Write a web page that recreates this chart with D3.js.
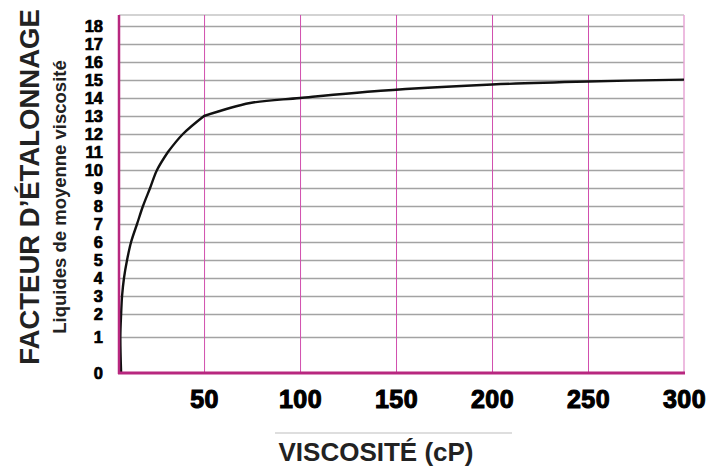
<!DOCTYPE html>
<html><head><meta charset="utf-8">
<script src="https://cdn.jsdelivr.net/npm/d3@7"></script>
<style>body{margin:0;background:#fff}svg{display:block}text{font-family:"Liberation Sans",Arial,sans-serif}</style>
</head><body>
<script>
const viscosity = [6.8, 6.4, 6.8, 7.3, 8.3, 9.9, 12, 15.1, 18.2, 21.9, 25.5, 31.2, 39, 50, 74, 100, 142, 200, 250, 300];
const factor    = [0,   1,   2,   3,   4,   5,   6,  7,    8,    9,    10,   11,   12, 13, 13.72, 14, 14.4, 14.75, 14.92, 15.02];
const breakIdx = [11, 13]; // visible kinks on the curve (at factor 11 and 13)
const yTicks = [0,1,2,3,4,5,6,7,8,9,10,11,12,13,14,15,16,17,18];
const xTicks = [50,100,150,200,250,300];
const yTitle = "FACTEUR D\u2019ÉTALONNAGE";
const ySub = "Liquides de moyenne viscosité";
const xTitle = "VISCOSITÉ (cP)";

const W = 722, H = 468;
const L = 119, R = 684, T = 15, B = 373;
const svg = d3.select("body").append("svg").attr("width", W).attr("height", H);

const x = d3.scaleLinear().domain([5.7, 300]).range([L, R]);
const y = d3.scaleLinear().domain([0, 1, 2, 18]).range([B, 337, 314, 26]);

// horizontal gridlines
svg.append("g").attr("transform", `translate(${L},0)`)
  .call(d3.axisLeft(y).tickValues(yTicks.filter(d => d > 0)).tickSize(-(R - L)).tickFormat(""))
  .call(g => g.select(".domain").remove())
  .call(g => g.selectAll("line").attr("stroke", "#a3a3a3").attr("stroke-width", 1.5));
// top border
svg.append("line").attr("x1", L).attr("x2", R).attr("y1", T).attr("y2", T)
  .attr("stroke", "#c4c4c4").attr("stroke-width", 1.5);
// vertical gridlines
svg.append("g").attr("transform", `translate(0,${B})`)
  .call(d3.axisBottom(x).tickValues(xTicks.slice(0, -1)).tickSize(-(B - T)).tickFormat(""))
  .call(g => g.select(".domain").remove())
  .call(g => g.selectAll("line").attr("stroke", "#d14fae").attr("stroke-width", 1));
// right border
svg.append("line").attr("x1", R).attr("x2", R).attr("y1", T).attr("y2", B)
  .attr("stroke", "#e7a6d6").attr("stroke-width", 1.5);

// curve, drawn in segments so that the kinks stay sharp
const pts = viscosity.map((v, i) => [v, factor[i]]);
const cuts = [0, ...breakIdx, pts.length - 1];
const line = d3.line().x(d => x(d[0])).y(d => y(d[1])).curve(d3.curveCatmullRom.alpha(0.5));
let dStr = "";
for (let k = 0; k < cuts.length - 1; k++) {
  const seg = line(pts.slice(cuts[k], cuts[k + 1] + 1));
  dStr += k === 0 ? seg : seg.replace(/^M[^A-Za-z]*/, "");
}
svg.append("path").attr("d", dStr)
  .attr("fill", "none").attr("stroke", "#111").attr("stroke-width", 2.4).attr("stroke-linejoin", "round");

// axes lines
svg.append("line").attr("x1", L).attr("x2", L).attr("y1", T).attr("y2", B + 1)
  .attr("stroke", "#b8277f").attr("stroke-width", 2.5);
svg.append("line").attr("x1", L - 1).attr("x2", R + 1).attr("y1", B).attr("y2", B)
  .attr("stroke", "#b8277f").attr("stroke-width", 3);

// y tick labels
svg.append("g").attr("transform", `translate(103,0)`)
  .call(d3.axisLeft(y).tickValues(yTicks).tickSize(0).tickPadding(0))
  .call(g => g.select(".domain").remove())
  .call(g => g.selectAll("text").attr("font-size", 16.5).attr("font-weight", "bold")
    .attr("fill", "#000").attr("stroke", "#000").attr("stroke-width", 0.7)
    .style("font-family", "'Liberation Sans', Arial, sans-serif"));

// x tick labels
svg.append("g").attr("transform", `translate(0,390)`)
  .call(d3.axisBottom(x).tickValues(xTicks).tickSize(0).tickPadding(0))
  .call(g => g.select(".domain").remove())
  .call(g => g.selectAll("text").attr("font-size", 25).attr("font-weight", "bold")
    .attr("fill", "#000").attr("stroke", "#000").attr("stroke-width", 1.1)
    .attr("letter-spacing", 0.5)
    .style("font-family", "'Liberation Sans', Arial, sans-serif"));

// x title
svg.append("line").attr("x1", 275).attr("x2", 512).attr("y1", 433).attr("y2", 433)
  .attr("stroke", "#bdbdbd").attr("stroke-width", 1);
svg.append("text").attr("x", 376).attr("y", 461).attr("text-anchor", "middle")
  .attr("font-size", 26).attr("font-weight", "bold").attr("fill", "#222").text(xTitle);

// y titles
svg.append("text").attr("transform", "translate(39,187) rotate(-90)").attr("text-anchor", "middle")
  .attr("font-size", 27.5).attr("font-weight", "bold").attr("fill", "#222").text(yTitle);
svg.append("text").attr("transform", "translate(66,197) rotate(-90)").attr("text-anchor", "middle")
  .attr("font-size", 18.5).attr("font-weight", "bold").attr("fill", "#222").text(ySub);
</script>
</body></html>
